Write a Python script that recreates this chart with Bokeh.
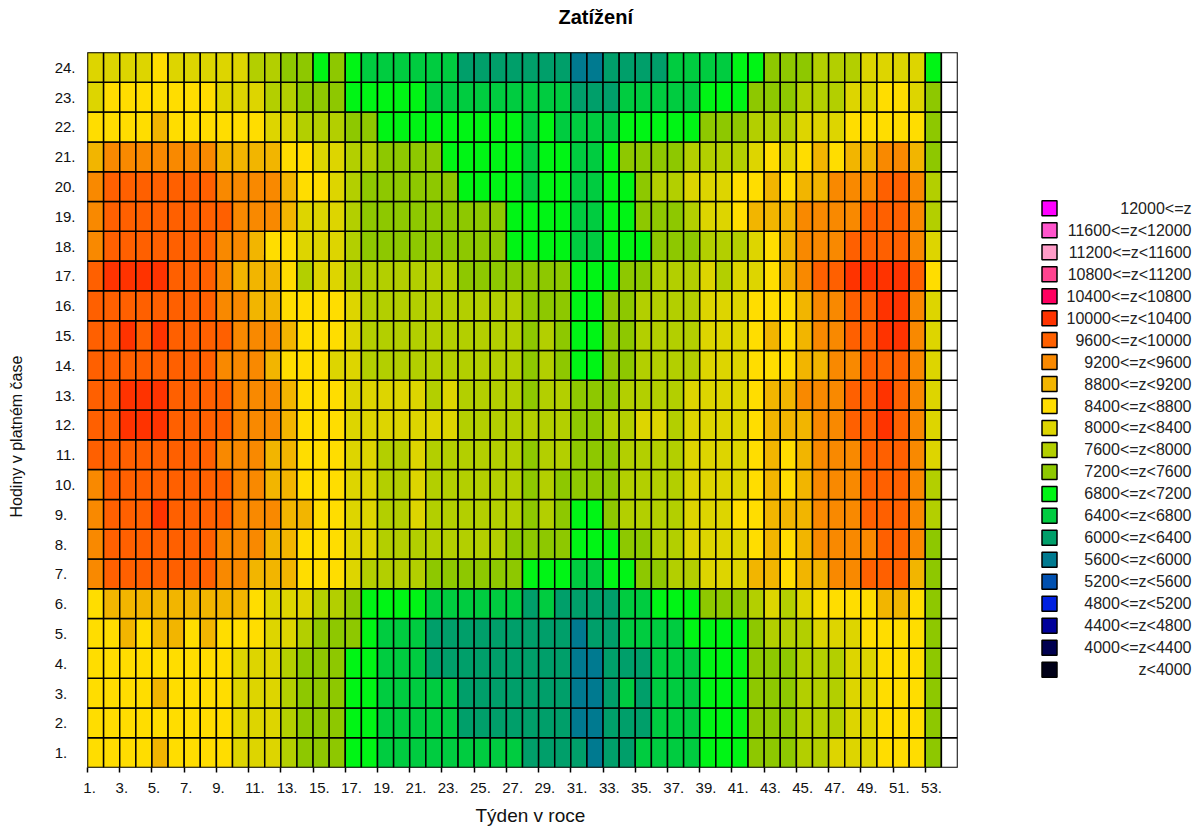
from bokeh.embed import file_html
from bokeh.resources import INLINE
from bokeh.plotting import figure
from bokeh.layouts import row
from bokeh.models import ColumnDataSource, LinearColorMapper, FixedTicker, Range1d, Title
from bokeh.core.properties import value

TITLE = "Zatížení"
X_LABEL = "Týden v roce"
Y_LABEL = "Hodiny v platném čase"

# load per hour (row) and week (column), read in hundreds, as the middle of each colour class
h24 = [82,82,82,82,86,82,82,82,82,82,78,78,74,74,70,74,70,66,66, 66,66,66,66,62,62,62,62,62,62,62,58,58,62,62,62,62,66, 66,66,66,70,70,74,74,74,78,78,78,82,82,82,82,70]
h23 = [82,86,86,86,86,86,86,86,82,82,82,78,78,74,74,74,70,70,70, 70,70,66,66,66,66,66,66,66,66,66,62,62,62,66,66,66,66, 66,70,70,70,74,74,74,78,78,78,82,82,86,86,82,74]
h22 = [86,86,86,86,90,86,86,86,86,86,86,82,82,78,78,78,74,74,70, 70,70,70,70,70,70,70,70,66,70,66,66,66,66,70,70,70,70, 70,74,74,74,78,78,78,82,82,82,86,86,86,86,86,74]
h21 = [90,94,94,94,94,94,94,94,90,90,90,90,86,86,82,82,78,78,74, 74,74,74,70,70,70,70,70,66,70,70,66,66,70,74,74,74,74, 78,78,78,78,82,86,82,86,90,86,90,90,94,94,90,74]
h20 = [94,98,98,98,98,98,98,98,94,94,94,94,90,86,86,82,78,74,74, 74,74,74,74,70,70,70,70,66,70,70,66,66,70,70,74,78,78, 82,82,82,86,86,90,86,90,90,94,94,94,98,98,94,78]
h19 = [94,98,98,98,98,98,98,98,98,94,94,94,90,82,82,82,78,74,74, 74,74,74,74,74,74,74,70,70,70,70,66,66,70,70,74,74,74, 78,82,82,86,90,90,90,94,94,94,94,98,98,98,94,78]
h18 = [94,98,98,98,98,98,98,98,94,94,90,86,86,82,82,82,78,74,74, 74,74,74,74,74,74,74,70,70,70,70,66,66,70,70,70,74,74, 74,78,78,78,82,86,90,94,94,94,98,98,98,98,94,82]
h17 = [98,102,102,102,102,98,98,98,94,90,90,90,86,78,82,82,78,78,78, 78,78,78,78,74,74,74,74,74,74,74,70,70,70,74,74,78,78, 78,82,78,82,82,86,90,94,98,98,102,102,102,102,98,86]
h16 = [98,98,98,98,98,98,98,98,94,94,90,90,86,86,86,86,82,78,78, 78,78,78,78,78,78,78,78,74,74,74,70,70,74,74,78,78,78, 78,82,82,82,86,86,86,90,94,94,98,98,102,102,94,82]
h15 = [98,98,102,98,102,98,98,98,98,94,94,94,90,86,86,86,82,78,78, 78,78,78,78,78,78,78,78,74,78,74,70,70,74,74,78,78,78, 78,82,82,82,86,90,86,90,94,94,98,98,102,102,94,82]
h14 = [98,98,98,98,98,98,98,98,94,94,94,90,86,86,86,82,82,78,78, 78,78,78,78,78,78,78,78,74,78,74,70,70,74,74,78,78,78, 78,82,82,82,86,86,86,90,90,94,94,98,98,98,94,82]
h13 = [98,98,102,102,102,98,98,98,98,94,94,94,90,86,86,86,82,82,82, 82,82,78,82,78,78,78,78,74,78,78,74,74,74,78,78,78,78, 82,82,82,82,86,90,90,94,94,94,98,98,102,98,94,82]
h12 = [98,98,102,102,102,98,98,98,98,94,94,94,90,86,86,86,82,82,82, 82,82,82,82,78,78,78,78,78,78,78,74,74,78,78,82,82,78, 82,82,82,82,86,90,90,90,94,94,98,98,102,98,94,82]
h11 = [98,98,98,98,98,98,98,98,94,94,94,90,90,86,86,86,82,82,78, 78,82,78,78,78,78,78,78,74,78,78,74,74,74,78,78,78,78, 82,82,82,82,86,90,86,90,94,94,94,98,98,98,94,82]
h10 = [94,98,98,98,98,98,98,98,98,94,94,90,90,86,86,86,82,82,78, 78,82,78,78,78,78,78,78,74,78,74,74,74,74,78,78,78,78, 82,82,82,82,86,90,86,90,94,94,94,98,98,98,94,78]
h9  = [94,98,98,98,102,98,98,98,98,94,94,94,90,90,86,86,82,82,78, 78,82,78,78,78,78,78,78,74,78,74,70,70,74,78,78,78,78, 82,82,82,86,86,90,90,90,94,94,94,98,98,98,94,78]
h8  = [94,98,98,98,98,98,98,98,94,94,94,90,90,86,86,86,82,82,78, 78,78,78,78,78,78,78,74,74,74,74,70,70,70,74,74,78,78, 82,82,82,82,86,90,86,90,94,94,94,94,98,98,94,74]
h7  = [94,98,98,98,98,98,98,98,94,94,90,90,90,86,86,86,82,78,78, 78,78,74,74,74,74,74,74,70,70,70,66,66,70,70,74,74,78, 78,82,82,82,90,90,86,90,90,94,94,98,98,98,90,74]
h6  = [86,90,90,90,90,90,90,90,90,90,86,82,82,82,78,78,74,70,70, 70,70,66,66,66,66,66,66,62,66,62,62,62,62,66,66,70,70, 70,74,74,74,78,82,78,82,86,86,86,86,90,90,86,74]
h5  = [86,86,90,86,90,90,86,90,86,86,86,82,82,78,74,74,74,70,66, 66,66,62,62,62,62,62,62,62,62,62,58,62,62,66,66,66,66, 70,70,70,70,74,78,78,78,82,82,82,86,86,86,86,74]
h4  = [86,86,86,86,86,86,86,86,86,82,82,82,78,74,74,74,70,70,66, 66,66,62,62,62,62,62,62,62,62,62,58,58,62,62,62,66,66, 66,70,70,70,74,74,74,78,78,78,82,82,86,86,86,74]
h3  = [86,86,86,86,90,86,86,86,86,82,82,82,78,74,74,74,70,70,66, 66,66,66,66,62,62,62,62,62,62,62,58,58,62,66,62,66,66, 66,70,70,70,74,74,74,78,78,78,82,82,86,86,86,74]
h2  = [86,86,86,86,86,86,86,86,86,82,82,82,78,74,74,74,70,70,66, 66,66,66,66,62,62,62,62,62,62,62,58,58,62,62,62,66,66, 66,70,70,70,74,74,74,78,78,78,82,82,86,86,86,74]
h1  = [86,86,86,86,90,86,86,86,86,82,82,82,78,74,74,74,70,70,66, 66,66,66,66,66,66,66,66,62,62,62,62,58,62,62,66,66,66, 66,70,70,70,74,74,74,78,78,82,82,82,86,86,86,74]
hours = [h1,h2,h3,h4,h5,h6,h7,h8,h9,h10,h11,h12,h13,h14,h15,h16,h17,h18,h19,h20,h21,h22,h23,h24]

colours = ["#000018","#000050","#00009A","#0020E0","#0050B0","#007A90","#009F6A","#00CC40","#00F515","#8EC800","#B3CF00",
           "#DDD500","#FFDD00","#F2B500","#F98900","#FF6000","#FF3300","#FF0060","#FF4490","#FF9CC8","#FF55CC","#FF00FF"]
legend_labels = ["12000<=z","11600<=z<12000","11200<=z<11600","10800<=z<11200","10400<=z<10800","10000<=z<10400",
                 "9600<=z<10000","9200<=z<9600","8800<=z<9200","8400<=z<8800","8000<=z<8400","7600<=z<8000",
                 "7200<=z<7600","6800<=z<7200","6400<=z<6800","6000<=z<6400","5600<=z<6000","5200<=z<5600",
                 "4800<=z<5200","4400<=z<4800","4000<=z<4400","z<4000"]
legend_mid = [12200,11800,11400,11000,10600,10200,9800,9400,9000,8600,8200,7800,7400,7000,6600,6200,5800,5400,5000,4600,4200,3800]

FONT = "Liberation Sans"
NBSP = "\u00a0"
for h in hours:
    assert len(h) == 53

weeks, hrs, zs = [], [], []
for i, h in enumerate(hours):
    for j in range(54):
        weeks.append(j + 1.5)
        hrs.append(i + 1.5)
        zs.append(h[j] * 100.0 if j < 53 else float("nan"))

mapper = LinearColorMapper(palette=colours, low=3600, high=12400, nan_color="white")

p = figure(width=970, height=829, output_backend="svg", toolbar_location=None,
           x_range=Range1d(1, 55), y_range=Range1d(1, 25),
           min_border_left=87, min_border_right=13, min_border_top=52, min_border_bottom=61)
p.grid.visible = False
p.outline_line_color = "#555555"
p.rect(x="x", y="y", width=1, height=1, source=ColumnDataSource(dict(x=weeks, y=hrs, z=zs)),
       fill_color={"field": "z", "transform": mapper}, line_color="black", line_width=1.5)

xt = list(range(1, 54, 2))
p.xaxis.ticker = FixedTicker(ticks=xt)
p.xaxis.major_label_overrides = {t: (NBSP if t < 10 else NBSP * 3) + f"{t}." for t in xt}
p.xaxis.major_tick_out = 5
p.xaxis.major_tick_in = 0
p.xaxis.major_tick_line_width = 1.5
p.xaxis.minor_tick_line_color = None
p.xaxis.axis_line_color = None
p.xaxis.major_label_standoff = 6
p.xaxis.major_label_text_font = FONT
p.xaxis.major_label_text_font_size = "15px"
p.xaxis.major_label_text_color = "#111111"

yt = [i + 1.5 for i in range(24)]
p.yaxis.ticker = FixedTicker(ticks=yt)
p.yaxis.major_label_overrides = {t: f"{int(t)}." + (NBSP * 2 if t < 10 else "") for t in yt}
p.yaxis.major_tick_out = 0
p.yaxis.major_tick_in = 0
p.yaxis.minor_tick_line_color = None
p.yaxis.axis_line_color = None
p.yaxis.major_label_standoff = 12
p.yaxis.major_label_text_font = FONT
p.yaxis.major_label_text_font_size = "15px"
p.yaxis.major_label_text_color = "#111111"

# blank titles next to the frame push the real ones outwards
p.add_layout(Title(text=NBSP, text_font_size="1px", standoff=22), "above")
p.add_layout(Title(text=TITLE, align="left", offset=471, standoff=0, text_font=FONT,
                   text_font_size="20px", text_font_style="bold", text_color="black"), "above")
p.add_layout(Title(text=X_LABEL, align="left", offset=388, standoff=8, text_font=FONT, text_font_size="19px",
                   text_font_style="normal", text_color="#111111"), "below")
p.add_layout(Title(text=NBSP, text_font_size="1px", standoff=24), "left")
p.add_layout(Title(text=Y_LABEL, align="left", offset=250, standoff=0, text_font=FONT,
                   text_font_size="16px", text_font_style="normal", text_color="#111111"), "left")

# the row aligns the two frames, so the legend's frame runs between the same pixels as the chart's
lg = figure(width=223, height=829, output_backend="svg", toolbar_location=None,
            x_range=Range1d(0, 223), y_range=Range1d((768 - 208) / 22, (52 - 208) / 22),
            min_border=0, min_border_top=52, min_border_bottom=61, x_axis_type=None, y_axis_type=None)
lg.grid.visible = False
lg.outline_line_color = None
pos = list(range(len(legend_labels)))
src = ColumnDataSource(dict(y=pos, z=legend_mid, t=legend_labels, sx=[79] * len(pos), tx=[221] * len(pos)))
lg.rect(x="sx", y="y", width=15, height=15, width_units="screen", height_units="screen", source=src,
        fill_color={"field": "z", "transform": mapper}, line_color="black", line_width=1.5)
lg.text(x="tx", y="y", text="t", source=src, text_align="right", text_baseline="middle",
        text_font=value(FONT), text_font_size="16px", text_color="#222222")

layout = row(p, lg, spacing=0)
open("out.html", "w").write(file_html(layout, INLINE))
